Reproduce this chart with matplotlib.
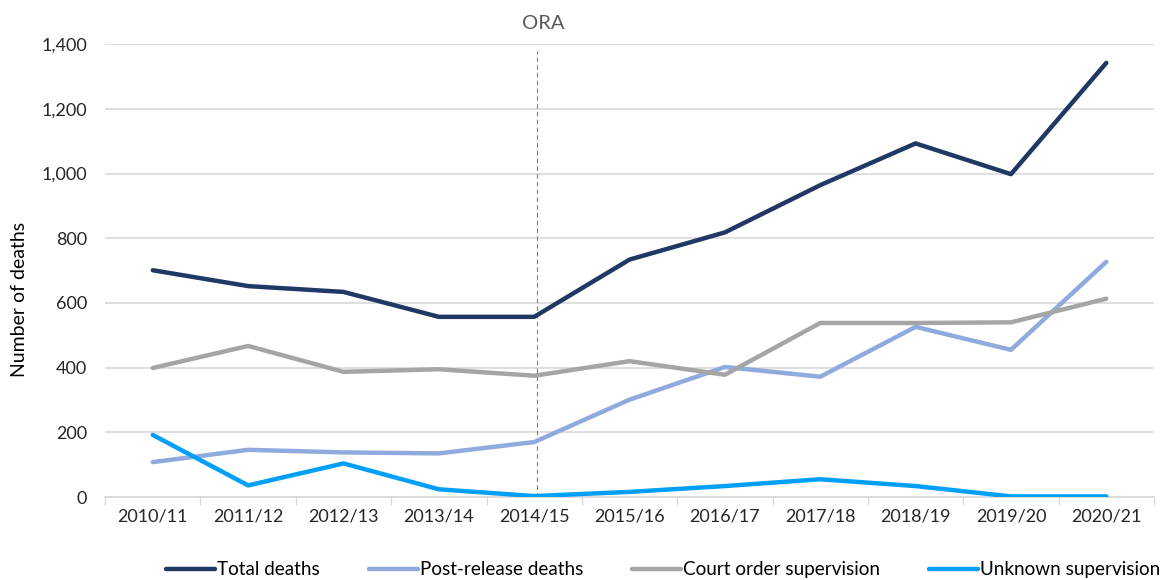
import matplotlib
matplotlib.use("Agg")
import matplotlib.pyplot as plt
from matplotlib.ticker import FuncFormatter

years = ['2010/11', '2011/12', '2012/13', '2013/14', '2014/15', '2015/16',
         '2016/17', '2017/18', '2018/19', '2019/20', '2020/21']
total = [701, 652, 634, 557, 557, 734, 818, 964, 1093, 998, 1342]
post_release = [108, 146, 138, 135, 170, 301, 402, 372, 526, 455, 727]
court_order = [399, 467, 387, 395, 375, 420, 378, 538, 538, 540, 613]
unknown = [192, 36, 104, 24, 3, 16, 34, 55, 34, 2, 2]

plt.rcParams['font.family'] = ['Lato', 'DejaVu Sans']

fig = plt.figure(figsize=(11.68, 5.8), dpi=100)
ax = fig.add_axes([0.090, 0.143, 0.898, 0.781])

x = list(range(len(years)))
ax.plot(x, total, color='#1F3864', lw=3.2, label='Total deaths', solid_capstyle='round', zorder=5)
ax.plot(x, post_release, color='#8FAADC', lw=3.2, label='Post-release deaths', solid_capstyle='round', zorder=3)
ax.plot(x, court_order, color='#A5A5A5', lw=3.2, label='Court order supervision', solid_capstyle='round', zorder=4)
ax.plot(x, unknown, color='#00A0F8', lw=3.2, label='Unknown supervision', solid_capstyle='round', zorder=6)

# ORA marker
ax.axvline(4.03, ymin=0, ymax=0.985, color='#7F7F7F', lw=0.8, ls=(0, (4, 3)), zorder=2)
ax.text(4.09, 1437, 'ORA', ha='center', va='bottom', fontsize=14.5, color='#595959')

ax.set_xlim(-0.5, len(years) - 0.5)
ax.set_ylim(0, 1400)
ax.set_yticks(range(0, 1401, 200))
ax.yaxis.set_major_formatter(FuncFormatter(lambda v, p: f'{int(v):,}'))
ax.set_xticks(x)
ax.set_xticklabels(years)
ax.set_xticks([i - 0.5 for i in range(len(years) + 1)], minor=True)
ax.tick_params(axis='x', which='major', length=0, pad=8, labelsize=13, colors='#262626')
ax.tick_params(axis='x', which='minor', length=6, color='#D9D9D9', width=1)
ax.tick_params(axis='y', length=0, pad=13, labelsize=13, colors='#262626')

ax.grid(axis='y', color='#D9D9D9', lw=1.2)
ax.set_axisbelow(True)
for s in ['top', 'right', 'left']:
    ax.spines[s].set_visible(False)
ax.spines['bottom'].set_color('#D9D9D9')
ax.spines['bottom'].set_linewidth(1.2)

ax.set_ylabel('Number of deaths', fontsize=14, color='#000000')
ax.yaxis.set_label_coords(-0.074, 0.437)

ax.legend(loc='center', bbox_to_anchor=(0.532, -0.161), ncol=4, frameon=False,
          fontsize=13.6, handlelength=2.6, handletextpad=0.1, columnspacing=2.6)

fig.savefig('out.png', dpi=100)
